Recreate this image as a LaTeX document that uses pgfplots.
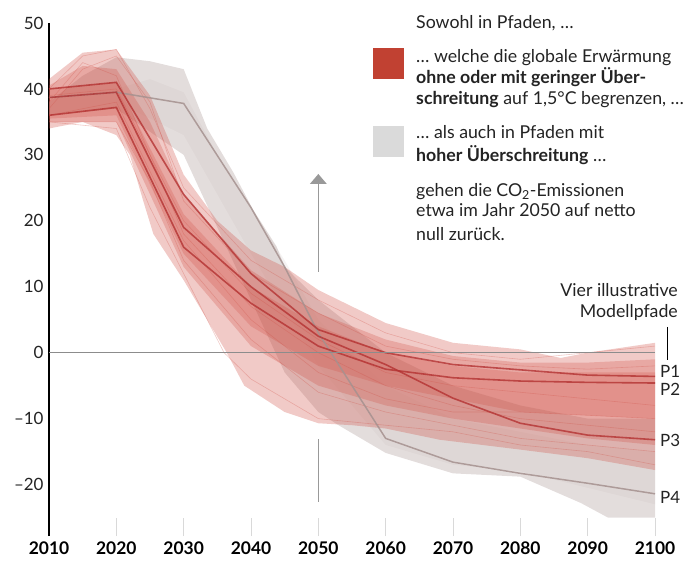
\documentclass[border=0pt]{standalone}
\usepackage{pgfplots}
\pgfplotsset{compat=1.18}
\usepackage{fontspec}
\setmainfont{Lato}
\definecolor{redband}{RGB}{208,80,70}
\definecolor{redline}{RGB}{180,50,50}
\definecolor{redsq}{RGB}{193,65,50}
\definecolor{grayband}{RGB}{200,188,186}
\definecolor{grayline}{RGB}{165,145,143}
\definecolor{graysq}{RGB}{218,218,218}
\definecolor{txt}{RGB}{35,35,35}
\begin{document}
\begin{tikzpicture}
\path[use as bounding box] (-49bp,-27bp) rectangle (639bp,536bp);
\begin{axis}[
  at={(0,0)}, anchor=south west,
  scale only axis, width=606bp, height=513bp,
  xmin=2010, xmax=2100, ymin=-27.8, ymax=50,
  axis x line*=bottom, axis y line*=left,
  x axis line style={draw=none},
  y axis line style={line width=2.3bp, black},
  xtick={2010,2020,...,2100},
  xticklabels={2010,2020,2030,2040,2050,2060,2070,2080,2090,2100},
  ytick={-20,-10,0,10,20,30,40,50},
  yticklabels={–20,–10,0,10,20,30,40,50},
  xticklabel style={font=\bfseries\fontsize{17.5}{17.5}\selectfont, text=black, yshift=-2bp},
  yticklabel style={font=\fontsize{17}{17}\selectfont, text=txt, xshift=-2bp},
  x tick style={draw=black!15, line width=1bp},
  y tick style={draw=none},
  tick align=inside, major tick length=18bp,
  clip=false,
]
% gray region (high overshoot)
\addplot[draw=none, fill=grayband, fill opacity=0.5] coordinates {
 (2010,38) (2015,42) (2020,44.8) (2025,44.2) (2030,43) (2033.5,34) (2037.4,27.3) (2040.3,21.7) (2043.8,16.1) (2045,13) (2050,8) (2060,0) (2070,-5) (2080,-8) (2090,-10) (2100,-10)
 (2100,-25) (2093,-25) (2089,-22.8) (2080,-18.8) (2070,-18.3) (2060,-15.2) (2053,-11) (2050,-9) (2045,-3) (2040,8) (2030,30) (2020,37) (2010,36) (2010,38)};
\addplot[draw=none, fill=grayband, fill opacity=0.18] coordinates {
 (2020,40) (2025,41.5) (2030,39.5) (2035,30) (2040,22) (2045,14) (2050,5) (2060,-5) (2070,-10) (2080,-12) (2090,-14) (2100,-15)
 (2100,-23) (2090,-20.5) (2080,-18) (2070,-17) (2060,-14) (2050,-2) (2040,15) (2030,33) (2020,38) (2020,40)};
% red region (no or low overshoot)
\addplot[draw=none, fill=redband, fill opacity=0.3] coordinates {
 (2010,41.5) (2015,45.5) (2020,46) (2025,39) (2030,27) (2035,20) (2040,15.5) (2045,13) (2050,9.5) (2060,4.5) (2070,1.5) (2080,0.5) (2086,-0.8) (2090,0) (2100,1.5)
 (2100,-17.8) (2090,-16) (2080,-14.7) (2068,-13.2) (2060,-11.5) (2055,-11) (2050,-10.7) (2045,-9) (2039,-5) (2036.4,0) (2030,11) (2025.5,18) (2024,23) (2022,30) (2020,33) (2015,35) (2010,34) (2010,41.5)};
\addplot[draw=none, fill=redband, fill opacity=0.28] coordinates {
 (2010,40.5) (2015,43.5) (2020,43) (2025,35) (2030,24) (2040,12.5) (2050,6) (2060,2) (2070,-0.5) (2080,-1.5) (2090,-1.5) (2100,-1)
 (2100,-14) (2090,-13) (2080,-11.5) (2070,-10) (2060,-8) (2050,-5) (2040,1) (2030,13) (2020,35) (2010,35) (2010,40.5)};
\addplot[draw=none, fill=redband, fill opacity=0.26] coordinates {
 (2010,40) (2020,41) (2030,21) (2040,10) (2050,4) (2060,0) (2070,-2) (2080,-3) (2100,-3)
 (2100,-10) (2080,-9) (2070,-7) (2060,-5) (2050,-2) (2040,4) (2030,15) (2020,36) (2010,35.5) (2010,40)};
% individual faint paths
\addplot[redband, opacity=0.3, line width=0.6bp] coordinates {(2010,37) (2015,43) (2020,45) (2025,38) (2030,23) (2040,12) (2050,6) (2060,1) (2070,-1) (2080,-2) (2090,-2.5) (2100,-2)};
\addplot[redband, opacity=0.3, line width=0.6bp] coordinates {(2010,38) (2015,44) (2020,42) (2030,18) (2040,7) (2050,0) (2060,-5) (2070,-8) (2080,-10) (2090,-11) (2100,-12)};
\addplot[redband, opacity=0.3, line width=0.6bp] coordinates {(2010,35) (2020,35) (2025,26) (2030,14) (2040,2) (2050,-6) (2060,-9) (2070,-11) (2080,-13) (2090,-14) (2100,-15)};
\addplot[redband, opacity=0.3, line width=0.6bp] coordinates {(2010,39) (2020,40) (2030,20) (2040,9) (2050,2) (2060,-3) (2070,-5) (2080,-6) (2090,-7) (2100,-8)};
\addplot[redband, opacity=0.3, line width=0.6bp] coordinates {(2010,36) (2020,38) (2030,17) (2040,5) (2050,-3) (2060,-7) (2070,-9) (2080,-9) (2090,-9.5) (2100,-10)};
\addplot[redband, opacity=0.3, line width=0.6bp] coordinates {(2010,40) (2015,45) (2020,46) (2025,37) (2030,25) (2040,14) (2050,8) (2060,3) (2070,0) (2080,-1) (2090,0) (2100,1)};
\addplot[redband, opacity=0.3, line width=0.6bp] coordinates {(2010,35) (2020,34) (2025,22) (2030,12) (2036,0) (2040,-4) (2050,-10) (2060,-11) (2070,-12) (2080,-14) (2090,-15) (2100,-17)};
% illustrative path P4 (high overshoot)
\addplot[grayline, line width=1.5bp, opacity=0.85] coordinates {
 (2010,38.7) (2020,39.5) (2030,37.8) (2040,22) (2045,13) (2050,3) (2060,-13) (2070,-16.6) (2080,-18.3) (2090,-19.8) (2100,-21.4)};
% illustrative paths P1-P3
\addplot[redline, line width=1.6bp, opacity=0.8] coordinates {
 (2010,40) (2020,41) (2030,24) (2040,12) (2050,3.5) (2060,0) (2070,-1.8) (2080,-2.6) (2090,-3.4) (2100,-3.6)};
\addplot[redline, line width=1.6bp, opacity=0.8] coordinates {
 (2010,36) (2020,37.2) (2030,16) (2040,7.5) (2050,1) (2060,-2.5) (2070,-3.8) (2080,-4.3) (2090,-4.5) (2100,-4.6)};
\addplot[redline, line width=1.6bp, opacity=0.8] coordinates {
 (2010,38.7) (2020,39.5) (2030,19) (2040,10) (2050,2.5) (2060,-1.8) (2070,-6.9) (2080,-10.7) (2090,-12.5) (2100,-13.2)};
% zero line
\addplot[black!45, line width=0.9bp] coordinates {(2010,0) (2100,0)};
% arrow annotation
\draw[black!40, line width=1.5bp] (axis cs:2050,12.3) -- (axis cs:2050,25.6);
\draw[black!40, line width=1.2bp] (axis cs:2050,-13.1) -- (axis cs:2050,-22.6);
\coordinate (arrtip) at (axis cs:2050,27.1);
\end{axis}
\fill[black!40] (arrtip) -- ++(-8.5bp,-10bp) -- ++(17bp,0) -- cycle;
% legend and annotations (1bp = 1px)
\begin{scope}[every node/.style={inner sep=0pt, text=txt, font=\fontsize{17.8}{21}\selectfont}]
\node[anchor=base west] at (367bp,507.7bp) {Sowohl in Pfaden, …};
\fill[redsq] (324bp,488bp) rectangle (355bp,457bp);
\node[anchor=base west] at (367bp,473.3bp) {… welche die globale Erwärmung};
\node[anchor=base west] at (367bp,452.7bp) {\textbf{ohne oder mit geringer Über-}};
\node[anchor=base west] at (367bp,431bp) {\textbf{schreitung} auf 1,5°C begrenzen, …};
\fill[graysq] (324bp,410bp) rectangle (355bp,379bp);
\node[anchor=base west] at (367bp,397bp) {… als auch in Pfaden mit};
\node[anchor=base west] at (367bp,374.3bp) {\textbf{hoher Überschreitung} …};
\node[anchor=base west] at (367bp,339.3bp) {gehen die CO\textsubscript{2}-Emissionen};
\node[anchor=base west] at (367bp,319.3bp) {etwa im Jahr 2050 auf netto};
\node[anchor=base west] at (367bp,295.3bp) {null zurück.};
\node[anchor=base east] at (629bp,239.3bp) {Vier illustrative};
\node[anchor=base east] at (629bp,218.3bp) {Modellpfade};
\draw[black, line width=1bp] (618bp,209bp) -- (618bp,176bp);
\node[anchor=west, font=\fontsize{17}{17}\selectfont] at (611bp,165bp) {P1};
\node[anchor=west, font=\fontsize{17}{17}\selectfont] at (611bp,147bp) {P2};
\node[anchor=west, font=\fontsize{17}{17}\selectfont] at (611bp,96bp) {P3};
\node[anchor=west, font=\fontsize{17}{17}\selectfont] at (611bp,39bp) {P4};
\end{scope}
\end{tikzpicture}
\end{document}
